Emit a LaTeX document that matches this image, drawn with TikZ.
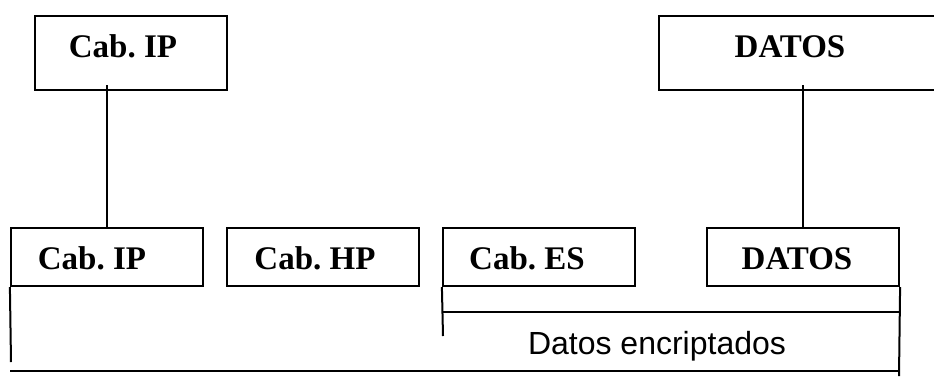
\documentclass[tikz,border=0pt]{standalone}
\usepackage{fontspec}
\setmainfont{Liberation Serif}
\setsansfont{Liberation Sans}
\frenchspacing
\begin{document}
\begin{tikzpicture}[x=1pt,y=-1pt,
  box/.style={draw,line width=2.2pt,inner sep=0pt},
  lbl/.style={font=\fontsize{33}{39}\selectfont\bfseries,inner sep=0pt,anchor=base},
  sublbl/.style={font=\fontsize{32}{38}\selectfont\sffamily,inner sep=0pt,anchor=base},
  wire/.style={line width=2pt}]
  \clip (0,0) rectangle (934,376);

  % upper row: outer IP header and the original payload
  \node[box,minimum width=192pt,minimum height=74pt] (topip) at (131,53) {};
  \node[lbl] (topiptxt) at (123,57) {Cab. IP};
  \node[box,minimum width=300pt,minimum height=74pt] (topdat) at (809,53) {};
  \node[lbl] (topdattxt) at (790,57) {DATOS};

  % lower row: the encapsulated packet
  \node[box,minimum width=192pt,minimum height=58pt] (ip) at (107,257) {};
  \node[lbl] (iptxt) at (92,269) {Cab. IP};
  \node[box,minimum width=192pt,minimum height=58pt] (hp) at (323,257) {};
  \node[lbl] (hptxt) at (315,269) {Cab. HP};
  \node[box,minimum width=192pt,minimum height=58pt] (es) at (539,257) {};
  \node[lbl] (estxt) at (527,269) {Cab. ES};
  \node[box,minimum width=192pt,minimum height=58pt] (dat) at (803,257) {};
  \node[lbl] (dattxt) at (797,269) {DATOS};

  % links from the upper boxes down to the lower row
  \coordinate (ipdrop) at (107,85);
  \coordinate (datdrop) at (803,85);
  \draw[wire] (ipdrop) -- (ipdrop |- ip.north);
  \draw[wire] (datdrop) -- (datdrop |- dat.north);

  % bracket over the encrypted part
  \coordinate (encL) at (443,336);
  \coordinate (encBar) at (443,312);
  \coordinate (encR) at (899,312);
  \draw[wire] (es.south west) -- (encL);
  \draw[wire] (encBar) -- (encR);
  \node[sublbl] (enctxt) at (657,354) {Datos encriptados};

  % bracket over the whole packet
  \coordinate (allL) at (11,362);
  \coordinate (allBL) at (10,371);
  \coordinate (allBR) at (899,371);
  \coordinate (allR) at (899,376);
  \draw[wire] (ip.south west) -- (allL);
  \draw[wire] (dat.south east) -- (allR);
  \draw[wire] (allBL) -- (allBR);
\end{tikzpicture}
\end{document}
